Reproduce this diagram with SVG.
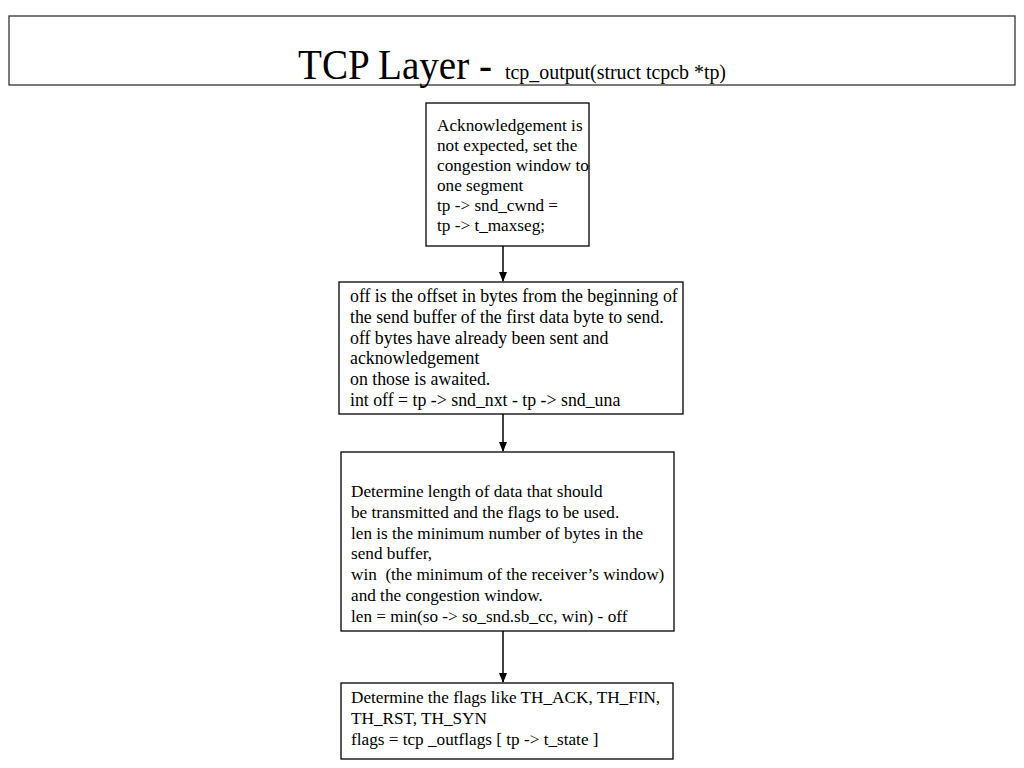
<svg xmlns="http://www.w3.org/2000/svg" width="1024" height="768" viewBox="0 0 1024 768">
<defs>
<marker id="arr" markerWidth="10" markerHeight="10" refX="9" refY="5" orient="auto" markerUnits="userSpaceOnUse">
<path d="M0,1 L10,5 L0,9 Z" fill="#000"/>
</marker>
<style>
.box{fill:#fff;stroke:#000;stroke-width:1.3}
.t{font-family:'Liberation Serif','Times New Roman',serif;font-size:17.2px;fill:#000}
.t2{font-family:'Liberation Serif','Times New Roman',serif;font-size:17.8px;fill:#000}
.h{font-family:'Liberation Serif','Times New Roman',serif;fill:#000}
.c{stroke:#000;stroke-width:1.5;fill:none}
</style>
</defs>
<rect width="1024" height="768" fill="#fff"/>
<g id="title">
<rect x="9" y="16" width="1006" height="69" fill="#fff" stroke="#333" stroke-width="1.3"/>
<text class="h" x="298" y="79" font-size="43" textLength="194" lengthAdjust="spacingAndGlyphs">TCP Layer -</text>
<text class="h" x="505" y="79" font-size="20" textLength="221" lengthAdjust="spacingAndGlyphs">tcp_output(struct tcpcb *tp)</text>
</g>
<g id="node1">
<rect class="box" x="426" y="103" width="163" height="143"/>
<text class="t" x="437" y="131">Acknowledgement is</text>
<text class="t" x="437" y="151">not expected, set the</text>
<text class="t" x="437" y="171">congestion window to</text>
<text class="t" x="437" y="191">one segment</text>
<text class="t" x="437" y="211">tp -&gt; snd_cwnd =</text>
<text class="t" x="437" y="231">tp -&gt; t_maxseg;</text>
</g>
<g id="node2">
<rect class="box" x="339" y="282" width="344" height="132"/>
<text class="t2" x="350" y="302">off is the offset in bytes from the beginning of</text>
<text class="t2" x="350" y="323">the send buffer of the first data byte to send.</text>
<text class="t2" x="350" y="344">off bytes have already been sent and</text>
<text class="t2" x="350" y="364">acknowledgement</text>
<text class="t2" x="350" y="385">on those is awaited.</text>
<text class="t2" x="350" y="406">int off = tp -&gt; snd_nxt - tp -&gt; snd_una</text>
</g>
<g id="node3">
<rect class="box" x="341" y="452" width="333" height="179"/>
<text class="t" x="351" y="497">Determine length of data that should</text>
<text class="t" x="351" y="518">be transmitted and the flags to be used.</text>
<text class="t" x="351" y="539">len is the minimum number of bytes in the</text>
<text class="t" x="351" y="559">send buffer,</text>
<text class="t" x="351" y="580" xml:space="preserve">win  (the minimum of the receiver’s window)</text>
<text class="t" x="351" y="601">and the congestion window.</text>
<text class="t" x="351" y="622">len = min(so -&gt; so_snd.sb_cc, win) - off</text>
</g>
<g id="node4">
<rect class="box" x="341" y="683" width="332" height="76"/>
<text class="t" x="351" y="703">Determine the flags like TH_ACK, TH_FIN,</text>
<text class="t" x="351" y="724">TH_RST, TH_SYN</text>
<text class="t" x="351" y="745">flags = tcp _outflags [ tp -&gt; t_state ]</text>
</g>
<g id="connectors">
<line class="c" x1="503" y1="246" x2="503" y2="281" marker-end="url(#arr)"/>
<line class="c" x1="503" y1="414" x2="503" y2="451" marker-end="url(#arr)"/>
<line class="c" x1="503" y1="631" x2="503" y2="682" marker-end="url(#arr)"/>
</g>
</svg>
